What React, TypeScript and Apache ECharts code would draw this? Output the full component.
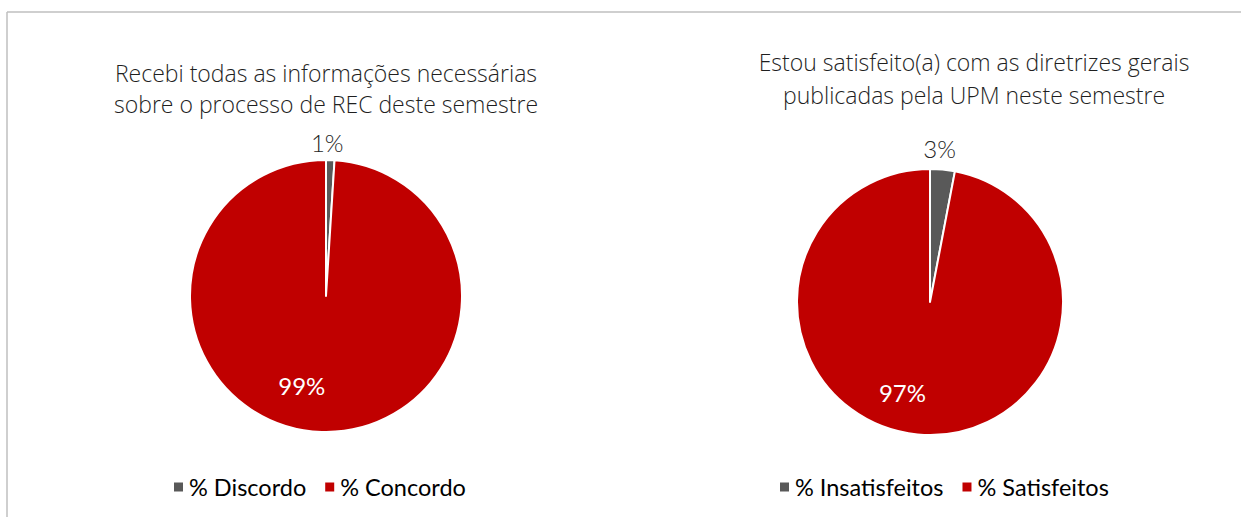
import React, { useEffect, useRef } from "react";
import * as echarts from "echarts";

const leftTitle = "Recebi todas as informações necessárias\nsobre o processo de REC deste semestre";
const rightTitle = "Estou satisfeito(a) com as diretrizes gerais\npublicadas pela UPM neste semestre";
const leftNames = ["% Discordo", "% Concordo"];
const leftValues = [1, 99];
const rightNames = ["% Insatisfeitos", "% Satisfeitos"];
const rightValues = [3, 97];
const colors = ["#595959", "#C00000"];

const FONT = "Lato, 'Open Sans', sans-serif";
const TFONT = "'Open Sans', Lato, sans-serif";

function pieSeries(names: string[], values: number[], center: number[], radius: number, nudges: number[][]) {
  return {
    type: "pie",
    center,
    radius,
    startAngle: 90,
    clockwise: true,
    avoidLabelOverlap: false,
    itemStyle: { borderColor: "#ffffff", borderWidth: 2 },
    emphasis: { disabled: true },
    labelLine: { show: false },
    label: {
      show: true,
      position: "inside",
      fontFamily: FONT,
      fontSize: 24,
      formatter: (p: any) => Math.round(p.value) + "%",
    },
    labelLayout: (p: any) => ({ dx: nudges[p.dataIndex][0], dy: nudges[p.dataIndex][1] }),
    data: names.map((n, i) => ({
      name: n,
      value: values[i],
      itemStyle: { color: colors[i] },
      label: { color: i === 0 ? "#262626" : "#ffffff", fontWeight: i === 0 ? 300 : 400 },
    })),
  };
}

const titleStyle = { fontFamily: TFONT, fontSize: 23, fontWeight: 300, color: "#1f1f1f", lineHeight: 31 };
const legendBase = {
  icon: "rect",
  itemWidth: 11,
  itemHeight: 11,
  itemGap: 17,
  top: 470,
  textStyle: { fontFamily: FONT, fontSize: 23.5, color: "#000000", padding: [0, 0, 0, 0] },
};

export default function App() {
  const ref = useRef<HTMLDivElement>(null);
  useEffect(() => {
    const chart = echarts.init(ref.current!, null, { renderer: "svg" });
    chart.setOption({
      animation: false,
      backgroundColor: "#ffffff",
      title: [
        { text: leftTitle, left: 321, top: 52, textAlign: "center", textStyle: titleStyle },
        { text: rightTitle, left: 969, top: 40, textAlign: "center", textStyle: { ...titleStyle, lineHeight: 33 } },
      ],
      legend: [
        { ...legendBase, data: leftNames, left: 167 },
        { ...legendBase, data: rightNames, left: 773 },
      ],
      series: [
        pieSeries(leftNames, leftValues, [326, 296], 136, [[-1, -83], [-22, 19]]),
        pieSeries(rightNames, rightValues, [930, 302], 133, [[3, -84], [-21, 21]]),
      ],
      graphic: [
        { type: "line", shape: { x1: 7, y1: 12, x2: 1241, y2: 12 }, style: { stroke: "#bfbfbf", lineWidth: 1.5 } },
        { type: "line", shape: { x1: 7, y1: 12, x2: 7, y2: 517 }, style: { stroke: "#bfbfbf", lineWidth: 1.5 } },
      ],
    });
    return () => chart.dispose();
  }, []);
  return <div ref={ref} style={{ position: "absolute", left: 0, top: 0, width: 1241, height: 517 }} />;
}
